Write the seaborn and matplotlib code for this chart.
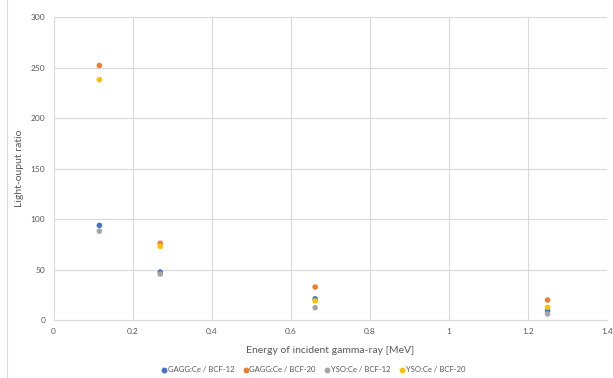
import matplotlib
matplotlib.use("Agg")
import matplotlib.pyplot as plt
import seaborn as sns
import pandas as pd

energies = [0.116, 0.27, 0.662, 1.25]
gagg_bcf12 = [93.7, 47.5, 21.0, 9.2]
gagg_bcf20 = [252.0, 76.0, 32.7, 19.8]
yso_bcf12 = [88.0, 45.5, 12.2, 6.0]
yso_bcf20 = [238.0, 73.0, 19.0, 12.6]
series_names = ["GAGG:Ce / BCF-12", "GAGG:Ce / BCF-20", "YSO:Ce / BCF-12", "YSO:Ce / BCF-20"]
colors = ["#4472C4", "#ED7D31", "#A5A5A5", "#FFC000"]
x_ticks = [0, 0.2, 0.4, 0.6, 0.8, 1, 1.2, 1.4]
x_tick_labels = ["0", "0.2", "0.4", "0.6", "0.8", "1", "1.2", "1.4"]
y_ticks = [0, 50, 100, 150, 200, 250, 300]

rows = []
for name, vals in zip(series_names, [gagg_bcf12, gagg_bcf20, yso_bcf12, yso_bcf20]):
    for e, v in zip(energies, vals):
        rows.append({"Energy": e, "Ratio": v, "Series": name})
df = pd.DataFrame(rows)

sns.set_style("white")
plt.rcParams['font.family'] = ['Lato', 'DejaVu Sans']

fig = plt.figure(figsize=(6.13, 3.78), dpi=100)
ax = fig.add_axes([0.0873, 0.1534, 0.9027, 0.8016])
sns.scatterplot(data=df, x="Energy", y="Ratio", hue="Series", hue_order=series_names,
                palette=colors, s=16, linewidth=0, ax=ax, legend=False, zorder=3)

ax.set_xlim(0, 1.4)
ax.set_ylim(0, 300)
ax.set_xticks(x_ticks)
ax.set_xticklabels(x_tick_labels)
ax.set_yticks(y_ticks)
ax.grid(True, color="#D9D9D9", linewidth=0.8)
ax.set_axisbelow(True)
for s in ["top", "right", "left"]:
    ax.spines[s].set_visible(False)
ax.spines["bottom"].set_color("#D9D9D9")
ax.spines["bottom"].set_linewidth(0.8)
ax.tick_params(axis="both", length=0, labelsize=6, labelcolor="#595959", pad=6)
ax.set_xlabel("Energy of incident gamma-ray [MeV]", fontsize=7.5, color="#595959", labelpad=8)
ax.set_ylabel("Light-ouput ratio", fontsize=7.5, color="#595959", labelpad=5)

handles = [plt.Line2D([], [], marker="o", linestyle="", color=c, markersize=3.2) for c in colors]
fig.legend(handles, series_names, loc="center", bbox_to_anchor=(0.51, 0.022), ncol=4,
           frameon=False, fontsize=5.5, handletextpad=0.0, columnspacing=1.0,
           handlelength=1.0, labelcolor="#595959")

# left border line of the chart frame
fig.add_artist(plt.Line2D([0.012, 0.012], [0.0, 1.0], color="#D9D9D9", linewidth=0.8,
                          transform=fig.transFigure))

fig.savefig("out.png", dpi=100)
